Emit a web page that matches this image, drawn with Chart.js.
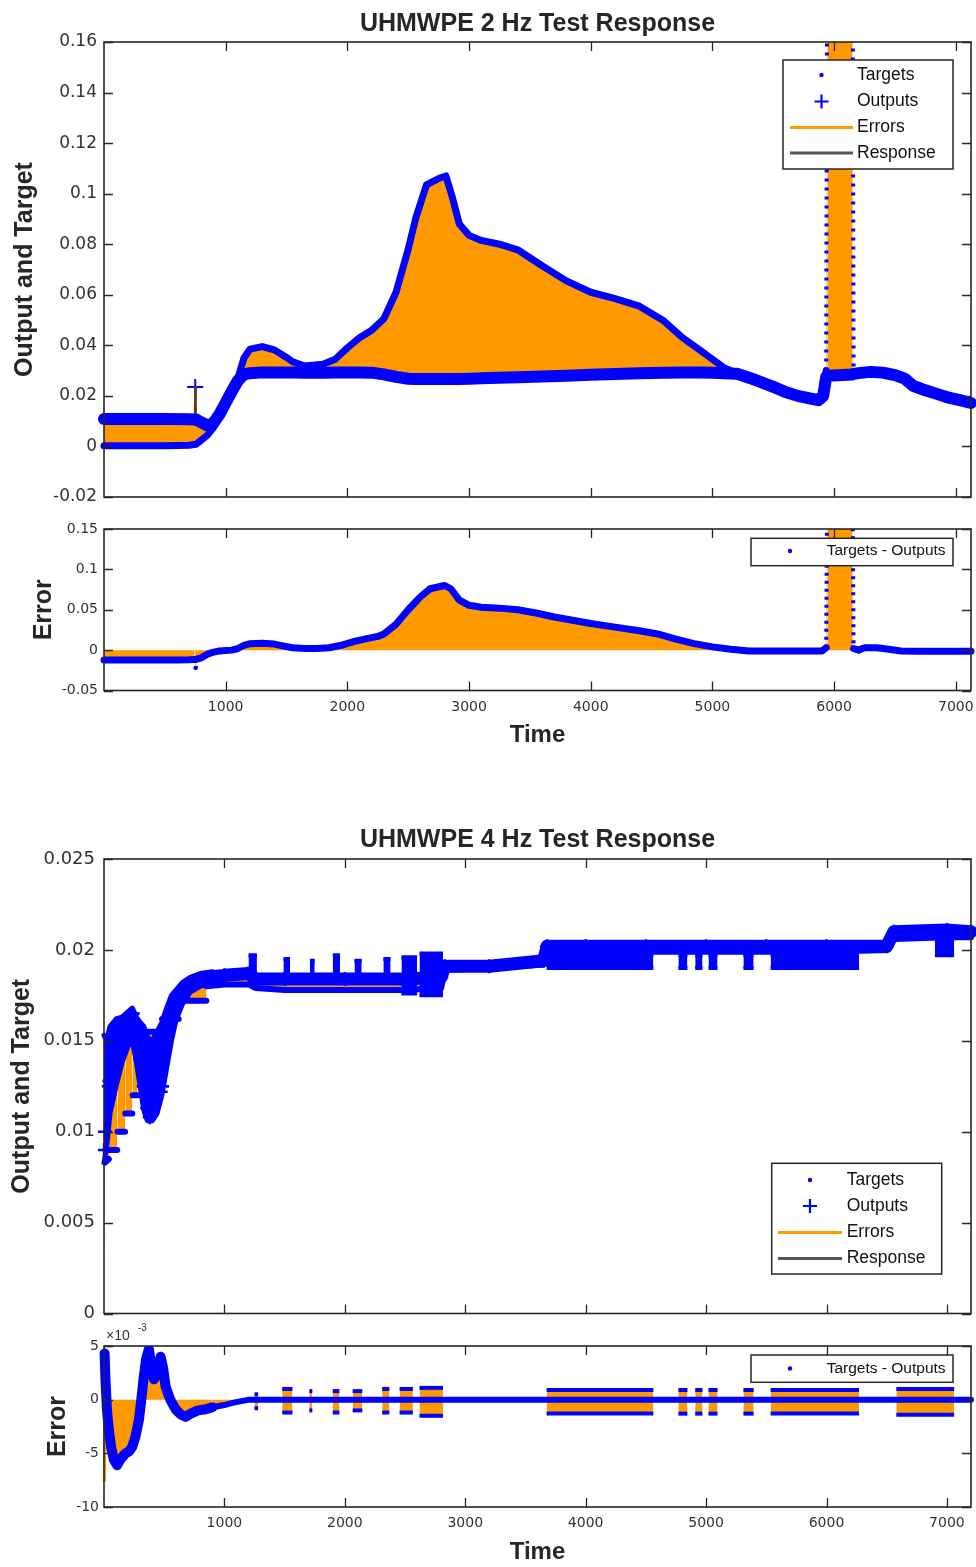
<!DOCTYPE html>
<html><head><meta charset="utf-8">
<script src="https://cdn.jsdelivr.net/npm/chart.js@4.4.1/dist/chart.umd.min.js"></script>
<style>
html,body{margin:0;padding:0;background:#fff;width:976px;height:1567px;overflow:hidden;}
canvas{position:absolute;left:0;}
</style></head><body>
<canvas id="c1" width="976" height="510" style="top:0px"></canvas>
<canvas id="c2" width="976" height="260" style="top:500px"></canvas>
<canvas id="c3" width="976" height="530" style="top:800px"></canvas>
<canvas id="c4" width="976" height="247" style="top:1320px"></canvas>
<script>
// ================= DATA =================
// ---- 2 Hz : Output and Target ----
const time2 = [0,100,300,500,700,740,745,750,755,760,800,850,900,950,1000,1050,1100,1150,1200,1300,1400,1500,1550,1650,1800,1900,2000,2100,2200,2300,2400,2500,2560,2650,2750,2810,2860,2920,3000,3100,3250,3400,3600,3800,4000,4200,4400,4600,4750,4900,5000,5100,5200,5300,5400,5500,5600,5700,5800,5870,5910,5935,5945,6150,6160,6200,6300,6400,6500,6580,6650,6750,6850,6950,7050,7125];
const target2 = [0.0003,0.0003,0.0003,0.0003,0.0005,0.0008,0.0008,0.0008,0.0008,0.0010,0.0025,0.0045,0.0075,0.0120,0.0170,0.0220,0.0268,0.0350,0.0385,0.0395,0.0382,0.0352,0.0335,0.0318,0.0325,0.0345,0.0390,0.0430,0.0460,0.0505,0.0610,0.0780,0.0900,0.1035,0.1060,0.1070,0.0990,0.0880,0.0835,0.0815,0.0800,0.0778,0.0715,0.0655,0.0610,0.0585,0.0555,0.0497,0.0432,0.0380,0.0345,0.0310,0.0290,0.0272,0.0254,0.0236,0.0215,0.0200,0.0190,0.0183,0.0195,0.0300,0.2500,0.2500,0.0290,0.0290,0.0295,0.0292,0.0282,0.0268,0.0240,0.0222,0.0207,0.0192,0.0181,0.0172];
const output2 = [0.0109,0.0109,0.0109,0.0109,0.0108,0.0107,0.0107,0.0235,0.0107,0.0106,0.0095,0.0083,0.0093,0.0128,0.0173,0.0218,0.0260,0.0285,0.0290,0.0293,0.0293,0.0293,0.0293,0.0292,0.0292,0.0293,0.0293,0.0293,0.0292,0.0285,0.0275,0.0268,0.0267,0.0267,0.0267,0.0267,0.0267,0.0267,0.0268,0.0270,0.0272,0.0274,0.0277,0.0280,0.0284,0.0287,0.0290,0.0292,0.0293,0.0293,0.0292,0.0290,0.0288,0.0272,0.0254,0.0236,0.0215,0.0200,0.0190,0.0183,0.0200,0.0275,0.0280,0.0285,0.0287,0.0290,0.0295,0.0292,0.0282,0.0268,0.0240,0.0222,0.0207,0.0192,0.0181,0.0172];
const outlierTime2 = [750];
const outlierValue2 = [0.0235];

// ---- 2 Hz : Error (Targets - Outputs) ----
const errTime2 = [0,300,600,700,745,750,755,800,850,900,950,1000,1050,1100,1150,1200,1300,1400,1480,1550,1650,1750,1850,1950,2050,2150,2250,2300,2400,2500,2600,2680,2800,2850,2920,3000,3100,3250,3400,3550,3700,3850,4000,4200,4400,4550,4700,4850,5000,5150,5300,5500,5700,5900,5935,5945,6150,6160,6200,6250,6350,6450,6550,6700,7125];
const err2 = [-0.0123,-0.0123,-0.0123,-0.0120,-0.0115,-0.0220,-0.0115,-0.0095,-0.0050,-0.0025,-0.0010,-0.0005,0.0000,0.0020,0.0060,0.0080,0.0085,0.0075,0.0050,0.0030,0.0020,0.0020,0.0030,0.0060,0.0105,0.0140,0.0170,0.0200,0.0320,0.0500,0.0660,0.0760,0.0800,0.0760,0.0620,0.0555,0.0530,0.0520,0.0500,0.0460,0.0410,0.0370,0.0330,0.0285,0.0240,0.0200,0.0135,0.0080,0.0040,0.0010,-0.0010,-0.0010,-0.0010,-0.0010,0.0030,0.2500,0.2500,0.0020,0.0000,0.0030,0.0030,0.0010,-0.0010,-0.0015,-0.0015];

// ---- 4 Hz : Output and Target ----
const time4 = [0,8,40,45,80,110,112,150,175,177,210,235,237,260,280,282,300,330,332,360,362,380,410,440,470,480,482,510,540,580,620,622,680,760,850,852,1000,1200,1260,1500,2000,2500,2800,2830,3200,3650,3680,4000,4500,5000,5500,6000,6500,6560,7000,7200];
const target4 = [0.0030,0.0083,0.0085,0.0090,0.0090,0.0090,0.0100,0.0100,0.0100,0.0110,0.0110,0.0110,0.0120,0.0120,0.0120,0.0135,0.0135,0.0135,0.0150,0.0150,0.0155,0.0155,0.0155,0.0155,0.0155,0.0155,0.0162,0.0162,0.0162,0.0162,0.0162,0.0172,0.0172,0.0172,0.0172,0.0180,0.0181,0.0181,0.0179,0.0178,0.0178,0.0178,0.0179,0.0189,0.0190,0.0192,0.0199,0.0199,0.0199,0.0199,0.0199,0.0199,0.0200,0.0206,0.0207,0.0207];
const output4 = [0.0090,0.0100,0.0125,0.0128,0.0142,0.0150,0.0150,0.0155,0.0160,0.0160,0.0163,0.0165,0.0165,0.0160,0.0150,0.0150,0.0140,0.0125,0.0125,0.0113,0.0113,0.0108,0.0115,0.0120,0.0122,0.0125,0.0125,0.0148,0.0163,0.0170,0.0172,0.0172,0.0178,0.0182,0.0184,0.0185,0.0186,0.0187,0.0184,0.0184,0.0184,0.0184,0.0185,0.0191,0.0191,0.0194,0.0202,0.0202,0.0202,0.0202,0.0202,0.0202,0.0202,0.0210,0.0211,0.0210];
const spreadTime4 = [0,20,50,100,150,200,235,270,300,330,360,400,440,480,520,560,600,650,720,800,900];
const spreadHi4 = [0.0153,0.0150,0.0158,0.0162,0.0163,0.0166,0.0168,0.0163,0.0160,0.0158,0.0152,0.0150,0.0155,0.0160,0.0168,0.0175,0.0178,0.0182,0.0185,0.0187,0.0188];
const spreadLo4 = [0.0083,0.0090,0.0110,0.0125,0.0138,0.0147,0.0150,0.0138,0.0125,0.0112,0.0106,0.0106,0.0110,0.0120,0.0135,0.0150,0.0162,0.0170,0.0177,0.0180,0.0182];
const burstOutStart4 = [1200,1490,1710,1900,2080,2320,2470,2620,3676,4770,4910,5020,5310,5536,6900];
const burstOutEnd4   = [1270,1545,1750,1960,2140,2380,2600,2815,4562,4845,4970,5095,5395,6270,7060];
const burstOutHi4    = [0.0197,0.0195,0.0194,0.0197,0.0194,0.0195,0.0196,0.0198,0.0197,0.0197,0.0197,0.0197,0.0197,0.0197,0.0205];
const burstOutLo4    = [0.0184,0.0184,0.0184,0.0184,0.0184,0.0184,0.0176,0.0175,0.0190,0.0190,0.0190,0.0190,0.0190,0.0190,0.0197];

// ---- 4 Hz : Error ----
const errTime4 = [0,5,12,25,40,60,82,109,140,179,210,234,260,290,310,331,350,373,395,415,440,470,490,512,550,595,640,678,720,780,845,900,1000,1067,1205,2000,3000,4000,5000,6000,7200];
const err4 = [-0.0075,0.0043,0.0019,-0.0010,-0.0028,-0.0045,-0.0056,-0.0061,-0.0055,-0.0050,-0.0048,-0.0044,-0.0035,-0.0019,0.0000,0.0022,0.0038,0.0047,0.0030,0.0019,0.0025,0.0040,0.0030,0.0012,0.0000,-0.0009,-0.0014,-0.0016,-0.0013,-0.0010,-0.0009,-0.0007,-0.0005,-0.0003,0.0000,0.0000,0.0000,0.0000,0.0000,0.0000,0.0000];
const burstErrStart4 = [1250,1480,1705,1900,2065,2310,2455,2620,3676,4770,4910,5020,5310,5536,6580];
const burstErrEnd4   = [1280,1565,1730,1955,2145,2370,2565,2815,4562,4845,4970,5095,5395,6270,7060];
const burstErrHi4    = [0.0005,0.0010,0.0008,0.0008,0.0008,0.0010,0.0010,0.0011,0.0009,0.0009,0.0009,0.0009,0.0009,0.0009,0.0010];
const burstErrLo4    = [-0.0008,-0.0012,-0.0010,-0.0012,-0.0010,-0.0012,-0.0012,-0.0015,-0.0013,-0.0013,-0.0013,-0.0013,-0.0013,-0.0013,-0.0014];

// ---- ticks & texts ----
const xTicks = [1000,2000,3000,4000,5000,6000,7000];
const xTickLabels = ['1000','2000','3000','4000','5000','6000','7000'];
const yTicks1 = [-0.02,0,0.02,0.04,0.06,0.08,0.1,0.12,0.14,0.16];
const yLabels1 = ['-0.02','0','0.02','0.04','0.06','0.08','0.1','0.12','0.14','0.16'];
const yTicks2 = [-0.05,0,0.05,0.1,0.15];
const yLabels2 = ['-0.05','0','0.05','0.1','0.15'];
const yTicks3 = [0,0.005,0.01,0.015,0.02,0.025];
const yLabels3 = ['0','0.005','0.01','0.015','0.02','0.025'];
const yTicks4 = [-0.01,-0.005,0,0.005];
const yLabels4 = ['-10','-5','0','5'];
const seriesNames = ['Targets','Outputs','Errors','Response'];
const errorSeriesName = 'Targets - Outputs';
const chartTitles = ['UHMWPE 2 Hz Test Response','UHMWPE 4 Hz Test Response'];
const yAxisTitles = ['Output and Target','Error'];
const xAxisTitle = 'Time';

// ================= STYLE / HELPERS =================
const BLUE = '#0000ff', ORANGE = '#ff9900', INK = '#262626';
const FONT = '"Liberation Sans", Arial, Helvetica, sans-serif';
const TICKFONT = '"DejaVu Sans", "Liberation Sans", sans-serif';
const pts = (xs, ys) => xs.map((x, i) => ({ x: x, y: ys[i] }));
const steep = c => Math.abs(c.p1.x - c.p0.x) < 3 && Math.abs(c.p1.y - c.p0.y) > 6;
const jump = c => Math.abs(c.p1.x - c.p0.x) < 3 && Math.abs(c.p1.y - c.p0.y) > 60;
const CLIP = { left: 6, right: 6, top: 0, bottom: 0 };
const NONE = 'rgba(0,0,0,0)';

const legendLayouts = {
  c1: { box: [783, 60, 170, 109], markerX: 821.5, line: [790, 853], textX: 857, font: '17.5px ' + FONT, rows: [75, 101.5, 127.5, 153], names: seriesNames, kinds: ['dot','plus','orange','gray'] },
  c2: { box: [751, 38.3, 202, 27.4], markerX: 790, textX: 826.7, font: '15.5px ' + FONT, rows: [51], names: [errorSeriesName], kinds: ['dot'] },
  c3: { box: [771.7, 363.3, 170, 110.7], markerX: 810, line: [778, 842], textX: 846.7, font: '17.5px ' + FONT, rows: [380, 406, 432.5, 458.5], names: seriesNames, kinds: ['dot','plus','orange','gray'] },
  c4: { box: [751, 35, 202, 27.3], markerX: 790, textX: 826.7, font: '15.5px ' + FONT, rows: [48.5], names: [errorSeriesName], kinds: ['dot'] }
};

const matlabFrame = {
  id: 'matlabFrame',
  afterDatasetsDraw(chart) {
    const { ctx, chartArea: a, scales: { x, y } } = chart;
    ctx.save();
    ctx.strokeStyle = INK; ctx.lineWidth = 1.6;
    ctx.strokeRect(a.left, a.top, a.right - a.left, a.bottom - a.top);
    const L = 9;
    ctx.beginPath();
    x.ticks.forEach(t => { const px = Math.round(x.getPixelForValue(t.value)) + 0.5;
      ctx.moveTo(px, a.bottom); ctx.lineTo(px, a.bottom - L); ctx.moveTo(px, a.top); ctx.lineTo(px, a.top + L); });
    y.ticks.forEach(t => { const py = Math.round(y.getPixelForValue(t.value)) + 0.5;
      ctx.moveTo(a.left, py); ctx.lineTo(a.left + L, py); ctx.moveTo(a.right, py); ctx.lineTo(a.right - L, py); });
    ctx.lineWidth = 1.3; ctx.stroke();
    ctx.restore();
  },
  afterDraw(chart) {
    const ctx = chart.ctx, id = chart.canvas.id, lg = legendLayouts[id];
    ctx.save();
    if (lg) {
      const [bx, by, bw, bh] = lg.box;
      ctx.fillStyle = '#fff'; ctx.fillRect(bx, by, bw, bh);
      ctx.strokeStyle = INK; ctx.lineWidth = 1.5; ctx.strokeRect(bx, by, bw, bh);
      ctx.font = lg.font; ctx.textBaseline = 'middle'; ctx.textAlign = 'left';
      lg.rows.forEach((ry, i) => {
        const k = lg.kinds[i];
        if (k === 'dot') { ctx.fillStyle = BLUE; ctx.beginPath(); ctx.arc(lg.markerX, ry, 2.2, 0, 2 * Math.PI); ctx.fill(); }
        else if (k === 'plus') { ctx.strokeStyle = BLUE; ctx.lineWidth = 2.2; ctx.beginPath();
          ctx.moveTo(lg.markerX - 7, ry); ctx.lineTo(lg.markerX + 7, ry); ctx.moveTo(lg.markerX, ry - 7); ctx.lineTo(lg.markerX, ry + 7); ctx.stroke(); }
        else { ctx.strokeStyle = k === 'orange' ? ORANGE : '#555'; ctx.lineWidth = 3; ctx.beginPath();
          ctx.moveTo(lg.line[0], ry); ctx.lineTo(lg.line[1], ry); ctx.stroke(); }
        ctx.fillStyle = '#111'; ctx.fillText(lg.names[i], lg.textX, ry);
      });
    }
    if (id === 'c4') {
      ctx.fillStyle = '#333'; ctx.textBaseline = 'alphabetic'; ctx.textAlign = 'left';
      ctx.font = '14px ' + FONT; ctx.fillText('\u00d710', 106, 20);
      ctx.font = '10px ' + FONT; ctx.fillText('-3', 138, 11);
    }
    ctx.restore();
  }
};

function baseOptions(c) {
  return {
    responsive: false, animation: false, devicePixelRatio: 1,
    layout: { autoPadding: false, padding: { left: 0, right: 5, top: c.padTop || 0, bottom: 0 } },
    elements: { point: { radius: 0 }, line: { tension: 0, borderJoinStyle: 'round', borderCapStyle: 'round' } },
    plugins: {
      legend: { display: false }, tooltip: { enabled: false },
      title: c.title ? { display: true, text: c.title, fullSize: false, color: INK,
        font: { family: FONT, size: 25, weight: 'bold' }, padding: { top: c.titleTop, bottom: c.titleBottom } } : { display: false }
    },
    scales: {
      x: { type: 'linear', min: 0, max: c.xMax, grid: { display: false, drawTicks: false }, border: { display: false },
        afterBuildTicks: s => { s.ticks = xTicks.map(v => ({ value: v })); },
        afterFit: s => { s.height = c.xHeight; s.paddingLeft = 0; s.paddingRight = 0; },
        ticks: { display: !!c.xLabels, callback: (v, i) => xTickLabels[i], font: { family: TICKFONT, size: 14 }, color: '#333', padding: 8, maxRotation: 0, autoSkip: false },
        title: c.xLabels ? { display: true, text: xAxisTitle, color: INK, font: { family: FONT, size: 24, weight: 'bold' }, padding: { top: 0, bottom: c.xTitleBottom } } : { display: false } },
      y: { type: 'linear', min: c.yMin, max: c.yMax, grid: { display: false, drawTicks: false }, border: { display: false },
        afterBuildTicks: s => { s.ticks = c.yTicks.map(v => ({ value: v })); },
        afterFit: s => { s.width = 104; s.paddingTop = 0; s.paddingBottom = 0; },
        ticks: { callback: (v, i) => c.yLabels[i], font: { family: TICKFONT, size: c.yTickSize }, color: '#333', padding: c.yTickPad, autoSkip: false },
        title: { display: true, text: c.yTitle, color: INK, font: { family: FONT, size: 25, weight: 'bold' }, padding: { top: c.yTitleTop, bottom: 0 } } }
    }
  };
}

function burstSets(start, end, hi, lo, fillColor, baseIndex, width) {
  const sets = [];
  start.forEach((s, i) => {
    const hiIdx = baseIndex + sets.length;
    sets.push({ label: 'burst hi', data: [{ x: s, y: hi[i] }, { x: end[i], y: hi[i] }], borderColor: BLUE, borderWidth: width, borderCapStyle: 'butt', pointRadius: 0, fill: false, clip: CLIP });
    sets.push({ label: 'burst lo', data: [{ x: s, y: lo[i] }, { x: end[i], y: lo[i] }], borderColor: BLUE, borderWidth: width, borderCapStyle: 'butt', pointRadius: 0, fill: { target: hiIdx }, backgroundColor: fillColor, clip: CLIP });
  });
  return sets;
}

// ================= CHART 1 : 2 Hz response =================
new Chart(document.getElementById('c1'), {
  type: 'line',
  data: { datasets: [
    { label: seriesNames[0], data: pts(time2, target2), borderColor: BLUE, borderWidth: 7, fill: false, clip: CLIP,
      segment: { borderDash: c => steep(c) ? [3, 6] : undefined, borderWidth: c => steep(c) ? 4 : undefined, borderCapStyle: c => steep(c) ? 'butt' : undefined } },
    { label: seriesNames[1], data: pts(time2, output2), borderColor: BLUE, borderWidth: 12, fill: false, clip: CLIP,
      segment: { borderWidth: c => steep(c) ? 2 : undefined, borderColor: c => steep(c) ? '#5a3d14' : undefined, borderCapStyle: c => steep(c) ? 'butt' : undefined } },
    { label: seriesNames[1] + ' outlier', data: pts(outlierTime2, outlierValue2), showLine: false, pointStyle: 'cross', pointRadius: 8, pointBorderWidth: 2, borderColor: BLUE, pointBorderColor: BLUE },
    { label: seriesNames[2], data: pts(time2, output2), borderWidth: 0, fill: { target: 0 }, backgroundColor: ORANGE }
  ] },
  options: baseOptions({ title: chartTitles[0], titleTop: 9, titleBottom: 3, xMax: 7125, xHeight: 13, xLabels: false,
    yMin: -0.02, yMax: 0.16, yTicks: yTicks1, yLabels: yLabels1, yTickSize: 17, yTickPad: 7, yTitle: yAxisTitles[0], yTitleTop: 10 }),
  plugins: [matlabFrame]
});

// ================= CHART 2 : 2 Hz error =================
new Chart(document.getElementById('c2'), {
  type: 'line',
  data: { datasets: [
    { label: errorSeriesName, data: pts(errTime2, err2), borderColor: BLUE, borderWidth: 7, fill: 'origin', backgroundColor: ORANGE, clip: CLIP,
      segment: { borderDash: c => steep(c) ? [3, 5] : undefined, borderWidth: c => steep(c) ? 4 : undefined, borderCapStyle: c => steep(c) ? 'butt' : undefined } }
  ] },
  options: baseOptions({ padTop: 29, xMax: 7125, xHeight: 69.5, xLabels: true, xTitleBottom: 10.6,
    yMin: -0.05, yMax: 0.15, yTicks: yTicks2, yLabels: yLabels2, yTickSize: 14, yTickPad: 6, yTitle: yAxisTitles[1], yTitleTop: 29 }),
  plugins: [matlabFrame]
});

// ================= CHART 3 : 4 Hz response =================
(function () {
  const ds = [
    { label: seriesNames[0], data: pts(time4, target4), borderColor: BLUE, borderWidth: 6, fill: false, clip: CLIP,
      segment: { borderColor: c => steep(c) ? NONE : undefined } },
    { label: seriesNames[1], data: pts(time4, output4), borderColor: BLUE, borderWidth: 13, fill: false, clip: CLIP,
      pointStyle: 'cross', pointRadius: 7, pointBorderWidth: 2.5, pointBorderColor: BLUE,
      segment: { borderColor: c => c.p1.parsed.x <= 850 ? NONE : undefined } }
  ];
  burstSets(burstOutStart4, burstOutEnd4, burstOutHi4, burstOutLo4, BLUE, ds.length, 4).forEach(b => ds.push(b));
  const hiIdx = ds.length;
  ds.push({ label: 'output spread hi', data: pts(spreadTime4, spreadHi4), borderColor: BLUE, borderWidth: 5, fill: false, clip: CLIP });
  ds.push({ label: 'output spread lo', data: pts(spreadTime4, spreadLo4), borderColor: BLUE, borderWidth: 5, fill: { target: hiIdx }, backgroundColor: BLUE, clip: CLIP });
  ds.push({ label: seriesNames[2], data: pts(time4, output4), borderWidth: 0, fill: { target: 0 }, backgroundColor: ORANGE, clip: CLIP });
  new Chart(document.getElementById('c3'), {
    type: 'line',
    data: { datasets: ds },
    options: baseOptions({ title: chartTitles[1], titleTop: 25, titleBottom: 4, xMax: 7200, xHeight: 16.5, xLabels: false,
      yMin: 0, yMax: 0.025, yTicks: yTicks3, yLabels: yLabels3, yTickSize: 18, yTickPad: 9, yTitle: yAxisTitles[0], yTitleTop: 7.5 }),
    plugins: [matlabFrame]
  });
})();

// ================= CHART 4 : 4 Hz error =================
(function () {
  const ds = [
    { label: errorSeriesName, data: pts(errTime4, err4), borderColor: BLUE, borderWidth: 6, fill: 'origin', backgroundColor: ORANGE, clip: CLIP,
      segment: { borderColor: c => jump(c) ? ORANGE : undefined,
                 borderWidth: c => jump(c) ? 3 : (c.p0.parsed.x < 900 ? 10 : undefined) } }
  ];
  burstSets(burstErrStart4, burstErrEnd4, burstErrHi4, burstErrLo4, ORANGE, ds.length, 4).forEach(b => ds.push(b));
  new Chart(document.getElementById('c4'), {
    type: 'line',
    data: { datasets: ds },
    options: baseOptions({ padTop: 26, xMax: 7200, xHeight: 60, xLabels: true, xTitleBottom: 0.6,
      yMin: -0.01, yMax: 0.005, yTicks: yTicks4, yLabels: yLabels4, yTickSize: 14, yTickPad: 5, yTitle: yAxisTitles[1], yTitleTop: 43 }),
    plugins: [matlabFrame]
  });
})();
</script>
</body></html>
